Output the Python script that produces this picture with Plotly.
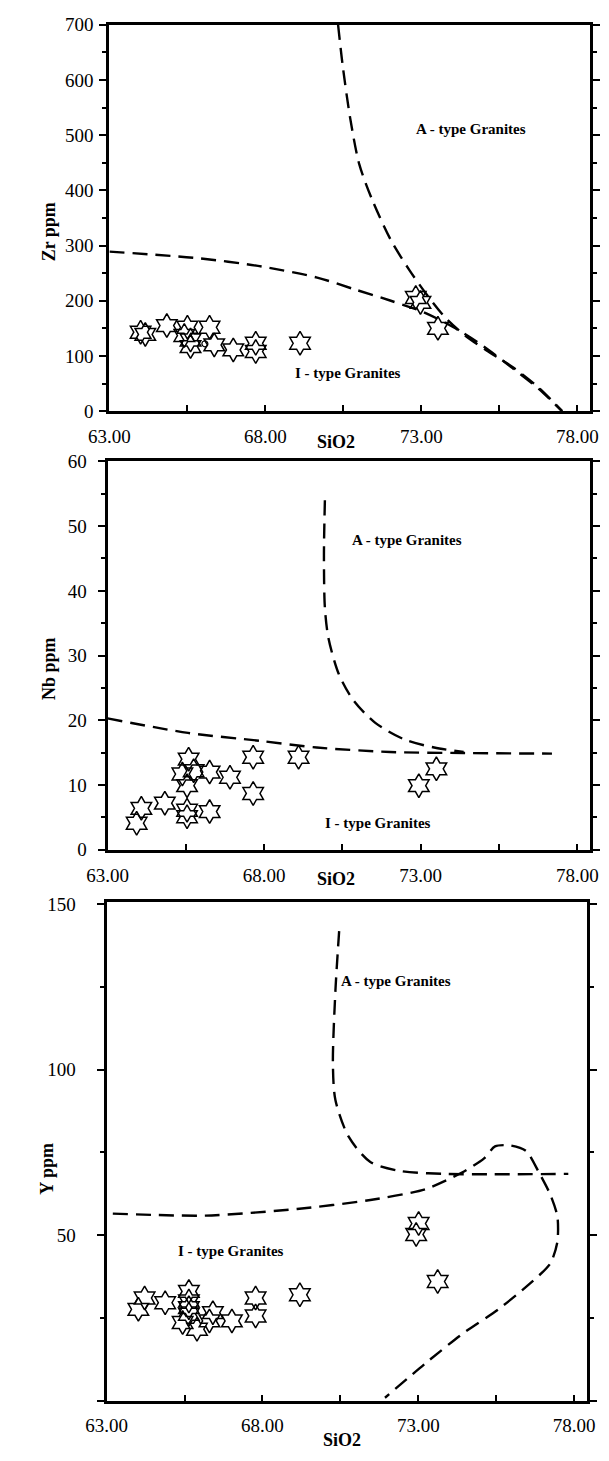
import plotly.graph_objects as go

# ---------------- data ----------------
# Panel 1: Zr vs SiO2
zr_sio2 = [64.0, 64.15, 64.84, 65.50, 65.40, 65.60, 65.60, 66.21, 66.36, 66.97, 67.69, 67.69, 69.11, 72.82, 72.97, 73.53]
zr_ppm = [143, 139, 155, 152, 137, 129, 117, 152, 120, 111, 123, 108, 123, 206, 197, 150]
zr_circle_sio2 = [66.06]
zr_circle_ppm = [122]
zr_itype_x = [63.0, 65.87, 67.88, 69.66, 70.84, 72.02, 73.08, 74.03, 74.98, 75.92, 76.75, 77.51]
zr_itype_y = [289, 277, 262, 242, 221, 200, 179, 152, 118, 78, 41, 0]
zr_atype_x = [70.33, 70.48, 70.72, 71.01, 71.43, 72.02, 72.61, 73.20, 73.79, 74.38, 75.09, 75.92, 76.75, 77.51]
zr_atype_y = [700, 625, 530, 447, 382, 310, 256, 209, 168, 138, 110, 80, 43, 0]

# Panel 2: Nb vs SiO2
nb_sio2 = [63.93, 64.08, 64.83, 65.54, 65.54, 66.26, 65.39, 65.59, 65.75, 65.54, 66.26, 66.91, 67.65, 67.65, 69.10, 72.94, 73.50]
nb_ppm = [4.1, 6.4, 7.2, 6.1, 5.1, 5.9, 11.7, 14.0, 12.2, 9.9, 12.0, 11.2, 14.3, 8.7, 14.3, 9.9, 12.5]
nb_itype_x = [63.0, 65.57, 67.92, 69.68, 72.02, 74.37, 77.19]
nb_itype_y = [20.3, 18.05, 16.8, 15.8, 15.1, 14.95, 14.85]
nb_atype_x = [69.94, 69.91, 69.94, 70.05, 70.38, 70.85, 71.55, 72.50, 73.43, 74.37]
nb_atype_y = [54.0, 45.5, 37.4, 32.8, 27.2, 23.1, 19.6, 17.0, 15.8, 15.1]

# Panel 3: Y vs SiO2
y_sio2 = [64.02, 64.22, 64.88, 65.64, 65.64, 65.64, 65.64, 65.44, 65.90, 66.41, 66.30, 67.02, 67.78, 67.78, 69.20, 73.62, 73.01, 72.93]
y_ppm = [27.6, 31.0, 29.6, 33.0, 30.1, 28.1, 26.1, 23.6, 21.6, 26.6, 24.1, 24.1, 31.0, 25.6, 32.0, 36.0, 53.5, 50.2]
y_itype_x = [63.2, 66.17, 69.11, 71.46, 73.23, 74.40, 75.11, 75.46, 75.93, 76.46, 76.87, 77.23, 77.46, 77.46, 77.23, 76.52, 75.58, 74.40, 73.23, 71.93]
y_itype_y = [56.5, 55.9, 57.9, 60.6, 63.9, 68.9, 73.2, 76.8, 77.1, 75.4, 68.9, 62.3, 55.7, 48.0, 41.4, 34.9, 27.7, 20.1, 11.3, 0.9]
y_atype_x = [70.46, 70.34, 70.26, 70.34, 70.76, 71.46, 72.40, 73.81, 77.81]
y_atype_y = [141.8, 123.7, 101.7, 90.8, 79.8, 72.1, 69.4, 68.5, 68.5]

x_tickvals = [63, 68, 73, 78]
x_ticktext = ["63.00", "68.00", "73.00", "78.00"]

FONT = "Liberation Serif"
W, H = 609, 1461

fig = go.Figure()

def dashed(x, y, xa, ya, smooth=0.8):
    fig.add_trace(go.Scatter(x=x, y=y, xaxis=xa, yaxis=ya, mode="lines",
                             line=dict(color="black", width=2.4, dash="15px,8px",
                                       shape="spline", smoothing=smooth),
                             hoverinfo="skip", showlegend=False))

def stars(x, y, xa, ya):
    fig.add_trace(go.Scatter(x=x, y=y, xaxis=xa, yaxis=ya, mode="markers",
                             marker=dict(symbol="hexagram-open", size=18, color="black",
                                         line=dict(color="black", width=1.5)),
                             showlegend=False))

dashed(zr_itype_x, zr_itype_y, "x", "y")
dashed(zr_atype_x, zr_atype_y, "x", "y")
stars(zr_sio2, zr_ppm, "x", "y")
fig.add_trace(go.Scatter(x=zr_circle_sio2, y=zr_circle_ppm, xaxis="x", yaxis="y", mode="markers",
                         marker=dict(symbol="circle-open", size=6, color="black",
                                     line=dict(color="black", width=1.2)), showlegend=False))

dashed(nb_itype_x, nb_itype_y, "x2", "y2")
dashed(nb_atype_x, nb_atype_y, "x2", "y2")
stars(nb_sio2, nb_ppm, "x2", "y2")

dashed(y_itype_x, y_itype_y, "x3", "y3", smooth=0.7)
dashed(y_atype_x, y_atype_y, "x3", "y3")
stars(y_sio2, y_ppm, "x3", "y3")

def px2paper_x(p):
    return p / W

def px2paper_y(p):
    return 1 - p / H

tickfont = dict(family=FONT, size=19, color="black")

def xax(left, right, rng, standoff):
    return dict(domain=[px2paper_x(left), px2paper_x(right)], range=rng,
                tickvals=x_tickvals, ticktext=x_ticktext, ticks="inside", ticklen=6,
                tickwidth=1.5, tickcolor="black",
                minor=dict(tickvals=[65.5, 70.5, 75.5], ticks="inside", ticklen=6,
                           tickwidth=1.5, tickcolor="black"),
                showline=True, linewidth=3, linecolor="black", mirror=True,
                showgrid=False, zeroline=False, tickfont=tickfont,
                ticklabelstandoff=standoff)

def yax(top, bottom, rng, tickvals, ticktext, minor_dtick, standoff, anchor):
    return dict(domain=[px2paper_y(bottom), px2paper_y(top)], range=rng,
                tickvals=tickvals, ticktext=ticktext, ticks="outside", ticklen=7,
                tickwidth=1.5, tickcolor="black",
                minor=dict(dtick=minor_dtick, tick0=0, ticks="outside", ticklen=4,
                           tickwidth=1.5, tickcolor="black"),
                showline=True, linewidth=3, linecolor="black", mirror="ticks",
                showgrid=False, zeroline=False, tickfont=tickfont,
                ticklabelstandoff=standoff, anchor=anchor)

fig.update_layout(
    width=W, height=H, margin=dict(l=0, r=0, t=0, b=0),
    paper_bgcolor="white", plot_bgcolor="white", showlegend=False,
    xaxis=dict(xax(93, 598, [63, 78.39], 6), anchor="y"),
    yaxis=yax(15, 407, [0, 700], [0, 100, 200, 300, 400, 500, 600, 700],
              ["0", "100", "200", "300", "400", "500", "600", "700"], 50, 2, "x"),
    xaxis2=dict(xax(91, 598, [63, 78.39], 6), anchor="y2"),
    yaxis2=yax(458, 852, [0, 60], [0, 10, 20, 30, 40, 50, 60],
               ["0", "10", "20", "30", "40", "50", "60"], 5, 7, "x2"),
    xaxis3=dict(xax(90, 595, [63, 78.4], 5), anchor="y3"),
    yaxis3=yax(905, 1411, [0, 150.6], [0, 50, 100, 150], ["", "50", "100", "150"], 25, 17, "x3"),
)

ann_font = dict(family=FONT, size=15, color="black")
title_font = dict(family=FONT, size=18, color="black")

def paper_label(text, xp, yp, angle=0):
    return dict(text=text, x=px2paper_x(xp), y=px2paper_y(yp), xref="paper", yref="paper",
                xanchor="center", yanchor="middle", showarrow=False, textangle=angle,
                font=title_font)

def data_label(text, x, y, xr, yr):
    return dict(text=text, x=x, y=y, xref=xr, yref=yr, xanchor="center", yanchor="middle",
                showarrow=False, font=ann_font)

annotations = [
    data_label("<b>A - type Granites</b>", 74.6, 512, "x", "y"),
    data_label("<b>I - type Granites</b>", 70.66, 70, "x", "y"),
    data_label("<b>A - type Granites</b>", 72.55, 47.9, "x2", "y2"),
    data_label("<b>I - type Granites</b>", 71.65, 4.1, "x2", "y2"),
    data_label("<b>A - type Granites</b>", 72.28, 126.7, "x3", "y3"),
    data_label("<b>I - type Granites</b>", 66.99, 45.3, "x3", "y3"),
    paper_label("<b>Zr ppm</b>", 29, 225, -90),
    paper_label("<b>Nb ppm</b>", 30, 668, -90),
    paper_label("<b>Y ppm</b>", 27, 1176, -90),
    paper_label("<b>SiO2</b>", 331, 438),
    paper_label("<b>SiO2</b>", 331, 882),
    paper_label("<b>SiO2</b>", 338, 1451),
]
fig.update_layout(annotations=annotations)

fig.write_html("out.html")
